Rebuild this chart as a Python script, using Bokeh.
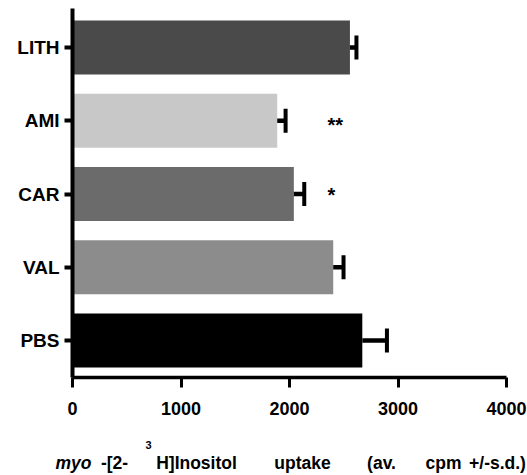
from bokeh.plotting import figure
from bokeh.models import Range1d, FixedTicker, Label
from bokeh.core.properties import value
from bokeh.embed import file_html
from bokeh.resources import INLINE

# ---- data ----
categories = ["PBS", "VAL", "CAR", "AMI", "LITH"]
means = [2671, 2403, 2040, 1887, 2557]
sds = [227, 95, 96, 77, 60]
bar_colors = ["#000000", "#8c8c8c", "#6b6b6b", "#c8c8c8", "#4a4a4a"]
x_ticks = [0, 1000, 2000, 3000, 4000]
sig_categories = ["AMI", "CAR"]
sig_marks = ["**", "*"]

ypos = list(range(len(categories)))
err_hi = [m + s for m, s in zip(means, sds)]

FONT = "Liberation Sans"
W, H = 527, 475
# page-pixel layout of the plotting area (frame spans the whole canvas,
# axes are fixed at data locations so that nothing is clipped)
PX_X0, PX_X4000 = 72.0, 506.0     # page x of 0 and 4000
PXU = 73.25                       # pixels per category step
PX_TOP_CAT = 47.0                 # page y of the top category centre
XMIN, XMAX = 0, 4000
sx = (PX_X4000 - PX_X0) / (XMAX - XMIN)
X0 = XMIN - PX_X0 / sx
X1 = XMAX + (W - PX_X4000) / sx
Y1 = (len(categories) - 1) + PX_TOP_CAT / PXU
Y0 = Y1 - H / PXU
AXIS_Y = -0.5
Y_TOP = 4.532


def px_x(page_x):
    return X0 + page_x / sx


def px_y(page_y):
    return Y1 - page_y / PXU


p = figure(width=W, height=H, output_backend="svg", toolbar_location=None,
           x_range=Range1d(X0, X1), y_range=Range1d(Y0, Y1),
           min_border_left=0, min_border_right=0,
           min_border_top=0, min_border_bottom=0)
p.outline_line_color = None
p.grid.visible = False
p.background_fill_color = "white"
p.border_fill_color = "white"

p.hbar(y=ypos, left=0, right=means, height=0.737, fill_color=bar_colors,
       line_color=None)
p.segment(x0=means, y0=ypos, x1=err_hi, y1=ypos, line_color="black",
          line_width=4.5)
p.dash(x=err_hi, y=ypos, size=24, angle=1.5708, line_color="black",
       line_width=4)

for cat, mark, yoff in zip(sig_categories, sig_marks, [4, 1]):
    p.text(x=[2350], y=[categories.index(cat)], text=[mark],
           text_font=value(FONT), text_font_style="bold",
           text_font_size="20px", text_baseline="alphabetic",
           text_align="left", y_offset=yoff, text_color="black")

# x axis (fixed at the bottom of the bars)
xa = p.xaxis[0]
xa.fixed_location = AXIS_Y
xa.bounds = (XMIN, XMAX)
xa.ticker = FixedTicker(ticks=x_ticks)
xa.axis_line_width = 3.5
xa.major_tick_line_width = 3
xa.major_tick_out = 10
xa.major_tick_in = 0
xa.minor_tick_line_color = None
xa.major_label_text_font = FONT
xa.major_label_text_font_style = "bold"
xa.major_label_text_font_size = "18px"
xa.major_label_standoff = 15
xa.major_label_text_color = "black"

# y axis (fixed at x = 0)
ya = p.yaxis[0]
ya.fixed_location = 0
ya.bounds = (AXIS_Y, Y_TOP)
ya.ticker = FixedTicker(ticks=ypos)
ya.major_label_overrides = {i: c for i, c in zip(ypos, categories)}
ya.axis_line_width = 4
ya.major_tick_line_width = 4
ya.major_tick_out = 8
ya.major_tick_in = 0
ya.minor_tick_line_color = None
ya.major_label_text_font = FONT
ya.major_label_text_font_style = "bold"
ya.major_label_text_font_size = "19px"
ya.major_label_standoff = 5
ya.major_label_text_color = "black"

# axis title, composed of pieces (italic, superscript); centred on the
# page-x spans that the words take in the reference
title_base = px_y(462)
sup_base = px_y(444)
pieces = [
    ("myo", 73, title_base, "bold italic", "17.5px"),
    ("-[2-", 114, title_base, "bold", "17.5px"),
    ("3", 148, sup_base, "bold", "11px"),
    ("H]Inositol", 196, title_base, "bold", "17.5px"),
    ("uptake", 302, title_base, "bold", "17.5px"),
    ("(av.", 381, title_base, "bold", "17.5px"),
    ("cpm", 443, title_base, "bold", "17.5px"),
    ("+/-s.d.)", 497, title_base, "bold", "17.5px"),
]
for txt, px, yy, style, size in pieces:
    p.add_layout(Label(x=px_x(px), y=yy, text=txt, text_font=FONT,
                       text_font_style=style, text_font_size=size,
                       text_baseline="alphabetic", text_align="center",
                       text_color="black"))

open("out.html", "w").write(file_html(p, INLINE))
